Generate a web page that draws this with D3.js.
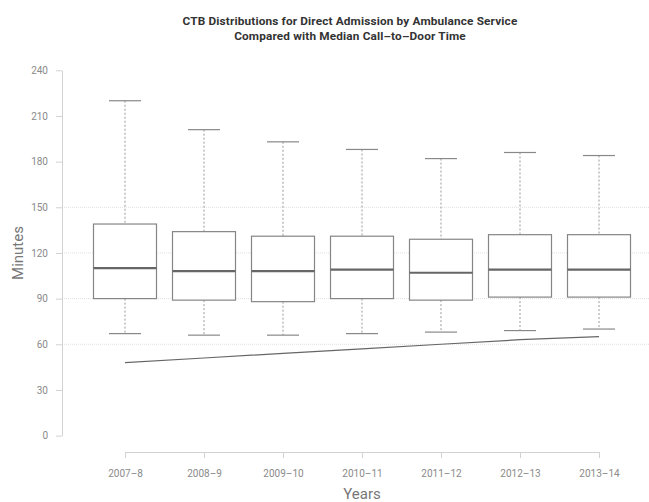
<!DOCTYPE html>
<html>
<head>
<meta charset="utf-8">
<script src="https://cdn.jsdelivr.net/npm/d3@7/dist/d3.min.js"></script>
<style>
  html, body { margin: 0; padding: 0; background: #fff; }
  svg { display: block; font-family: Roboto, "Noto Sans", sans-serif; }
</style>
</head>
<body>
<svg id="chart" width="649" height="502"></svg>
<script>
// Financial years on the x axis
const years = ["2007–8", "2008–9", "2009–10", "2010–11", "2011–12", "2012–13", "2013–14"];
// Call-to-balloon (CTB) distribution per year, in minutes
const whiskerLow  = [67, 66, 66, 67, 68, 69, 70];
const q1          = [90, 89, 88, 90, 89, 91, 91];
const median      = [110, 108, 108, 109, 107, 109, 109];
const q3          = [139, 134, 131, 131, 129, 132, 132];
const whiskerHigh = [220, 201, 193, 188, 182, 186, 184];
// Median call-to-door time per year, in minutes
const callToDoor  = [48, 51, 54, 57, 60, 63, 65];
// Axis ticks and the values that carry a gridline
const yTicks = [0, 30, 60, 90, 120, 150, 180, 210, 240];
const gridValues = [60, 90, 120, 150];

const svg = d3.select("#chart");
const W = 649;

const x = d3.scalePoint().domain(years).range([125, 599]).padding(0);
const y = d3.scaleLinear().domain([0, 240]).range([435.6, 70.3]);

const boxW = 63;
const capW = 32;

// Title
const title = svg.append("text")
  .attr("text-anchor", "middle")
  .attr("font-size", 11.8).attr("font-weight", 700).attr("fill", "#333")
  .attr("letter-spacing", 0.15);
title.append("tspan").attr("x", 350).attr("y", 25)
  .text("CTB Distributions for Direct Admission by Ambulance Service");
title.append("tspan").attr("x", 350).attr("y", 40)
  .text("Compared with Median Call–to–Door Time");

// Dotted gridlines
svg.append("g").selectAll("line").data(gridValues).join("line")
  .attr("x1", 62).attr("x2", W)
  .attr("y1", d => y(d)).attr("y2", d => y(d))
  .attr("stroke", "#e0e0e0").attr("stroke-width", 1)
  .attr("stroke-dasharray", "1,1");

// Y axis
const yAxis = svg.append("g").attr("transform", "translate(62,0)")
  .call(d3.axisLeft(y).tickValues(yTicks).tickSize(6).tickSizeOuter(0).tickPadding(8));
// X axis
const xAxis = svg.append("g").attr("transform", "translate(0,452)")
  .call(d3.axisBottom(x).tickSize(6).tickSizeOuter(6).tickPadding(8));

[yAxis, xAxis].forEach(g => {
  g.selectAll(".domain, .tick line").attr("stroke", "#d2d2d2");
  g.selectAll(".tick text").attr("fill", "#8a8a8a").attr("font-size", 10)
    .attr("font-family", "Roboto, sans-serif");
});
xAxis.selectAll(".tick text").attr("dy", "1.1em");

// Axis titles
svg.append("text")
  .attr("transform", "translate(23,253) rotate(-90)")
  .attr("text-anchor", "middle").attr("font-size", 15).attr("fill", "#777")
  .text("Minutes");
svg.append("text")
  .attr("x", 362).attr("y", 499).attr("text-anchor", "middle")
  .attr("font-size", 15).attr("fill", "#777")
  .text("Years");

// Box plots
const rows = years.map((yr, i) => ({
  yr, lo: whiskerLow[i], q1: q1[i], med: median[i], q3: q3[i], hi: whiskerHigh[i]
}));
const box = svg.append("g").selectAll("g").data(rows).join("g");

// whiskers (dashed)
box.append("line")
  .attr("x1", d => x(d.yr)).attr("x2", d => x(d.yr))
  .attr("y1", d => y(d.hi)).attr("y2", d => y(d.q3))
  .attr("stroke", "#999").attr("stroke-width", 1).attr("stroke-dasharray", "2,2");
box.append("line")
  .attr("x1", d => x(d.yr)).attr("x2", d => x(d.yr))
  .attr("y1", d => y(d.q1)).attr("y2", d => y(d.lo))
  .attr("stroke", "#999").attr("stroke-width", 1).attr("stroke-dasharray", "2,2");
// caps
box.append("line")
  .attr("x1", d => x(d.yr) - capW / 2).attr("x2", d => x(d.yr) + capW / 2)
  .attr("y1", d => y(d.hi)).attr("y2", d => y(d.hi))
  .attr("stroke", "#888").attr("stroke-width", 1.2);
box.append("line")
  .attr("x1", d => x(d.yr) - capW / 2).attr("x2", d => x(d.yr) + capW / 2)
  .attr("y1", d => y(d.lo)).attr("y2", d => y(d.lo))
  .attr("stroke", "#888").attr("stroke-width", 1.2);
// box
box.append("rect")
  .attr("x", d => x(d.yr) - boxW / 2).attr("width", boxW)
  .attr("y", d => y(d.q3)).attr("height", d => y(d.q1) - y(d.q3))
  .attr("fill", "#fff").attr("stroke", "#858585").attr("stroke-width", 1.2);
// median
box.append("line")
  .attr("x1", d => x(d.yr) - boxW / 2).attr("x2", d => x(d.yr) + boxW / 2)
  .attr("y1", d => y(d.med)).attr("y2", d => y(d.med))
  .attr("stroke", "#666").attr("stroke-width", 2.2);

// Median call-to-door line
svg.append("path")
  .datum(callToDoor)
  .attr("d", d3.line().x((d, i) => x(years[i])).y(d => y(d)))
  .attr("fill", "none").attr("stroke", "#666").attr("stroke-width", 1.2);
</script>
</body>
</html>
